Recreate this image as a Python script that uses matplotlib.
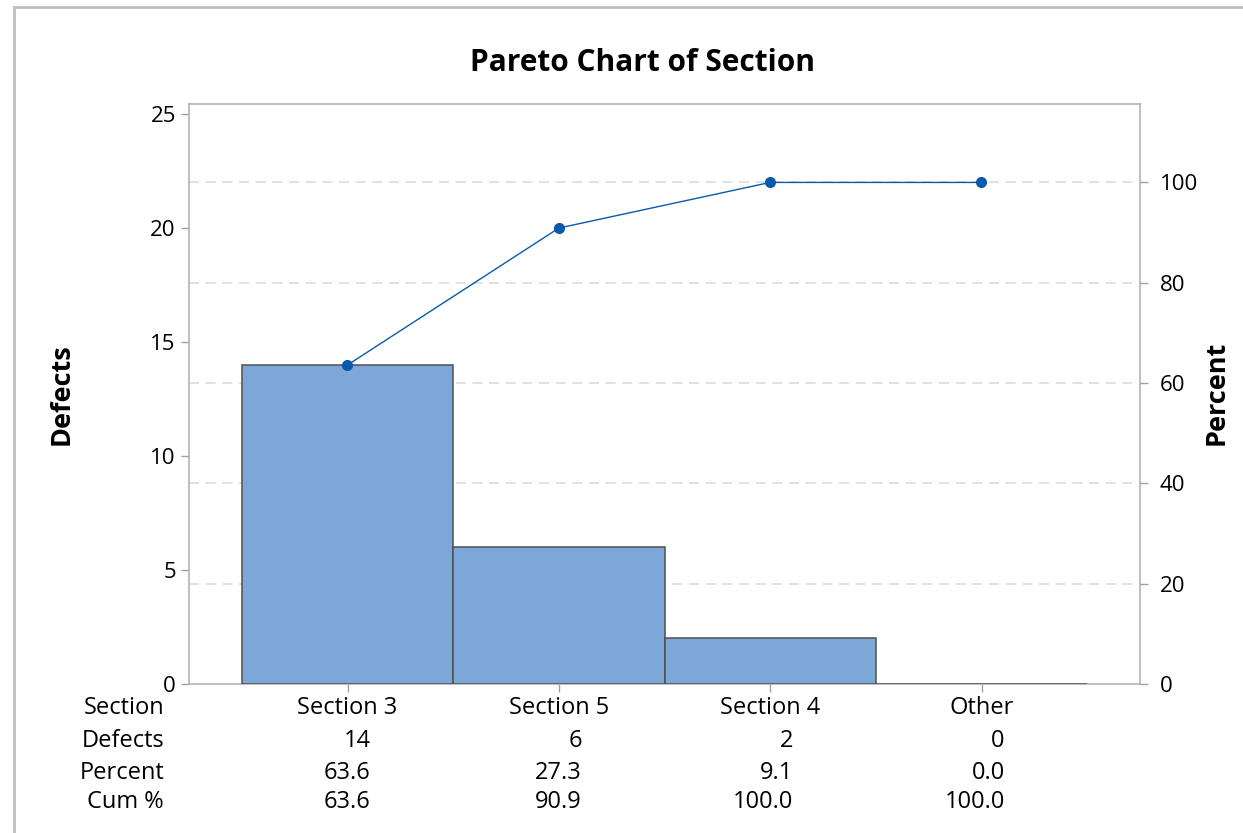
import matplotlib.pyplot as plt
from matplotlib.transforms import blended_transform_factory
from matplotlib.lines import Line2D

plt.rcParams['font.family'] = ['Open Sans', 'DejaVu Sans']

# data
sections = ['Section 3', 'Section 5', 'Section 4', 'Other']
defects = [14, 6, 2, 0]
percent = [63.6, 27.3, 9.1, 0.0]
cum_pct = [63.6, 90.9, 100.0, 100.0]
row_names = ['Section', 'Defects', 'Percent', 'Cum %']
pct_ticks = [0, 20, 40, 60, 80, 100]

W, H = 1243, 833
fig = plt.figure(figsize=(W / 100, H / 100), dpi=100)

# outer frame (only top and left edges visible)
frame_col = '#c0c0c0'
fig.add_artist(Line2D([14 / W, 14 / W], [0, 1 - 7 / H], transform=fig.transFigure, color=frame_col, lw=2))
fig.add_artist(Line2D([14 / W, 1], [1 - 7 / H, 1 - 7 / H], transform=fig.transFigure, color=frame_col, lw=2))

ax = fig.add_axes([189 / W, 1 - 684 / H, 951 / W, 580 / H])
x = list(range(len(sections)))
total = sum(defects)
ymax = 25.44

# dashed grid at the percent ticks, behind the bars
for p in pct_ticks[1:]:
    ax.axhline(p * total / 100, color='#dcdcdc', linestyle=(0, (6, 4)), linewidth=1.2, zorder=1)

ax.bar(x, defects, width=1.0, color='#7da7d9', edgecolor='#505050', linewidth=1.1, zorder=3)
ax.set_xlim(-0.75, 3.75)
ax.set_ylim(0, ymax)
ax.set_yticks([0, 5, 10, 15, 20, 25])
ax.set_xticks(x)
ax.set_xticklabels([])
ax.tick_params(axis='both', colors='#a0a0a0', labelcolor='black', labelsize=16, length=6, width=1)
for s in ax.spines.values():
    s.set_color('#b4b4b4')
    s.set_linewidth(1.2)

ax2 = ax.twinx()
ax2.set_ylim(0, ymax / total * 100)
ax2.set_yticks(pct_ticks)
ax2.tick_params(axis='y', colors='#a0a0a0', labelcolor='black', labelsize=16, length=6, width=1, pad=8)
for s in ax2.spines.values():
    s.set_visible(False)
ax2.plot(x, cum_pct, color='#0a5aaa', linewidth=1.0, marker='o', markersize=7, zorder=4)

fig.text(643 / W, 1 - 63 / H, 'Pareto Chart of Section', ha='center', va='center',
         fontsize=21.5, fontweight='bold')
fig.text(62 / W, 1 - 394 / H, 'Defects', ha='center', va='center', rotation=90,
         fontsize=19.5, fontweight='bold')
fig.text(1217 / W, 1 - 393 / H, 'Percent', ha='center', va='center', rotation=90,
         fontsize=19.5, fontweight='bold')

# table under the axis
trans = blended_transform_factory(ax.transData, fig.transFigure)
row_y = [708, 741, 773, 802]
rows = [sections,
        [str(v) for v in defects],
        ['%.1f' % v for v in percent],
        ['%.1f' % v for v in cum_pct]]
for name, yy in zip(row_names, row_y):
    fig.text(164 / W, 1 - yy / H, name, ha='right', va='center', fontsize=17)
for r, (vals, yy) in enumerate(zip(rows, row_y)):
    for xi, v in zip(x, vals):
        if r == 0:
            ax.text(xi, 1 - yy / H, v, transform=trans, ha='center', va='center', fontsize=17)
        else:
            ax.text(xi + 0.11, 1 - yy / H, v, transform=trans, ha='right', va='center', fontsize=17)

fig.savefig('out.png', dpi=100)
